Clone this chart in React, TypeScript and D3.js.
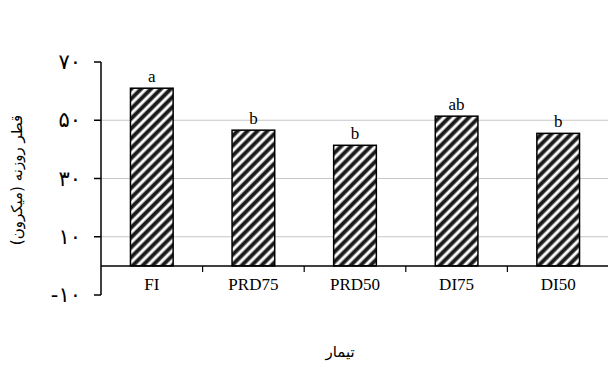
import React from 'react';
import * as d3 from 'd3';

const categories = ['FI', 'PRD75', 'PRD50', 'DI75', 'DI50'];
const values = [61, 46.6, 41.4, 51.4, 45.5];
const letters = ['a', 'b', 'b', 'ab', 'b'];
const yTicks = [-10, 10, 30, 50, 70];
const gridValues = [10, 30, 50];

const toFa = (n: number) => {
  const digits = '۰۱۲۳۴۵۶۷۸۹';
  const s = String(Math.abs(n)).replace(/\d/g, (d) => digits[+d]);
  return n < 0 ? '-' + s : s;
};

export default function App() {
  const width = 608, height = 383;
  const left = 101, right = 609, top = 62, bottom = 295;

  const x = d3.scaleBand().domain(categories).range([left, right]).paddingInner(0.58).paddingOuter(0.29);
  const y = d3.scaleLinear().domain([-10, 70]).range([bottom, top]);
  const band = d3.scaleBand().domain(categories).range([left, right]);

  return (
    <svg width={width} height={height} style={{ position: 'absolute', left: 0, top: 0, background: '#fff' }}>
      <defs>
        <pattern id="hatch" patternUnits="userSpaceOnUse" width="7" height="7" patternTransform="rotate(45)">
          <rect width="7" height="7" fill="#fff" />
          <rect x="0" y="0" width="3" height="7" fill="#1a1a1a" />
          <rect x="3" y="0" width="1" height="7" fill="#777" />
          <rect x="6" y="0" width="1" height="7" fill="#aaa" />
        </pattern>
      </defs>
      {gridValues.map((g) => (
        <line key={g} x1={left} x2={width} y1={y(g)} y2={y(g)} stroke="#c6c6c6" strokeWidth={1} />
      ))}
      {categories.map((c, i) => (
        <g key={c}>
          <rect x={x(c)} y={y(values[i])} width={x.bandwidth()} height={y(0) - y(values[i])}
            fill="url(#hatch)" stroke="#000" strokeWidth={1.5} />
          <text x={x(c)! + x.bandwidth() / 2} y={y(values[i]) - 6} textAnchor="middle"
            fontFamily="Liberation Serif" fontSize={17}>{letters[i]}</text>
          <text x={band(c)! + band.bandwidth() / 2} y={290} textAnchor="middle"
            fontFamily="Liberation Serif" fontSize={17}>{c}</text>
        </g>
      ))}
      {/* x axis */}
      <line x1={left} x2={width} y1={y(0)} y2={y(0)} stroke="#000" strokeWidth={1.5} />
      {categories.slice(1).map((c) => (
        <line key={c} x1={band(c)} x2={band(c)} y1={y(0)} y2={y(0) + 6} stroke="#000" strokeWidth={1.2} />
      ))}
      {/* y axis */}
      <line x1={left} x2={left} y1={top} y2={bottom} stroke="#000" strokeWidth={1.5} />
      {yTicks.map((t) => (
        <g key={t}>
          <line x1={left - 7} x2={left} y1={y(t)} y2={y(t)} stroke="#000" strokeWidth={1.5} />
          <text x={left - 20} y={y(t) + 7} textAnchor="end" fontFamily="DejaVu Sans" fontSize={21}>{toFa(t)}</text>
        </g>
      ))}
      <text transform={`translate(22,180) rotate(-90)`} textAnchor="middle" fontFamily="DejaVu Sans" fontSize={15}>قطر روزنه (میکرون)</text>
      <text x={340} y={357} textAnchor="middle" fontFamily="DejaVu Sans" fontSize={15}>تیمار</text>
    </svg>
  );
}
